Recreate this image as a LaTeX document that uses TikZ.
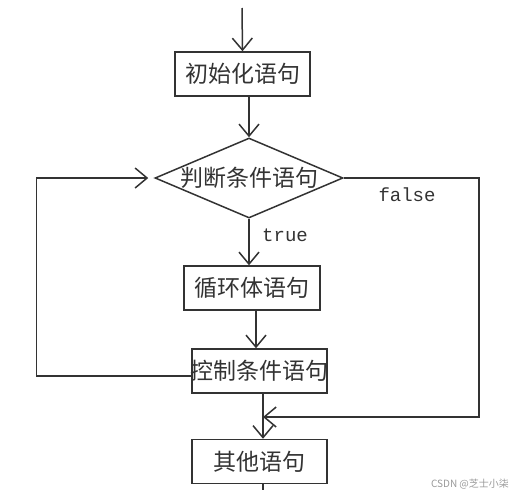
\documentclass[tikz,border=0pt]{standalone}
\usepackage{fontspec}
\setmainfont{Noto Sans CJK SC}
\setmonofont{Liberation Mono}
\usetikzlibrary{shapes.geometric,arrows.meta}
\begin{document}
\begin{tikzpicture}[x=1pt,y=-1pt,line width=1.5pt,color=black!80,
  txt/.style={font=\fontsize{23}{23}\selectfont},
  flow/.style={-{Straight Barb[length=12pt,width=20pt]}},
  stmt/.style={draw,rectangle,txt,inner sep=0pt,minimum height=44pt,minimum width=135pt},
  decision/.style={draw,diamond,inner sep=0pt,minimum width=188pt,minimum height=80pt},
  tag/.style={font=\ttfamily\fontsize{19}{19}\selectfont}]
\useasboundingbox (0,0) rectangle (516,490);

\node[stmt] (init) at (242.5,74) {初始化语句};
\node[decision,label={[txt]center:判断条件语句}] (cond) at (249,178) {};
\node[stmt,minimum width=136pt] (body) at (252,288) {循环体语句};
\node[stmt,inner xsep=-2pt] (ctrl) at (259.5,371) {控制条件语句};
\node[stmt] (other) at (259.5,461.5) {其他语句};

\node[tag] (tlab) at (285,235) {true};
\node[tag] (flab) at (407,195) {false};

\coordinate (start) at (242,8);
\coordinate (join) at (263,417);
\coordinate (exit) at (263,490);

\draw[flow] (start) -- (init.north);
\draw[flow] (init.south -| cond.north) -- (cond.north);
\draw[flow] (cond.south) -- (cond.south |- body.north);
\draw[flow] (body.south -| 256,0) -- (ctrl.north -| 256,0);
\draw[flow] (ctrl.south -| join) -- (other.north -| join);
\draw (other.south -| exit) -- (exit);

% loop back and exit
\draw[flow,shorten >=6pt] ([yshift=-5pt]ctrl.west) -- ++(-155,0) |- (cond.west);
\draw[flow] (cond.east) -- ++(135,0) |- (join);

\node[text=black!40,font=\fontsize{10}{10}\selectfont] (mark) at (470,484) {CSDN @芝士小柒};
\end{tikzpicture}
\end{document}
